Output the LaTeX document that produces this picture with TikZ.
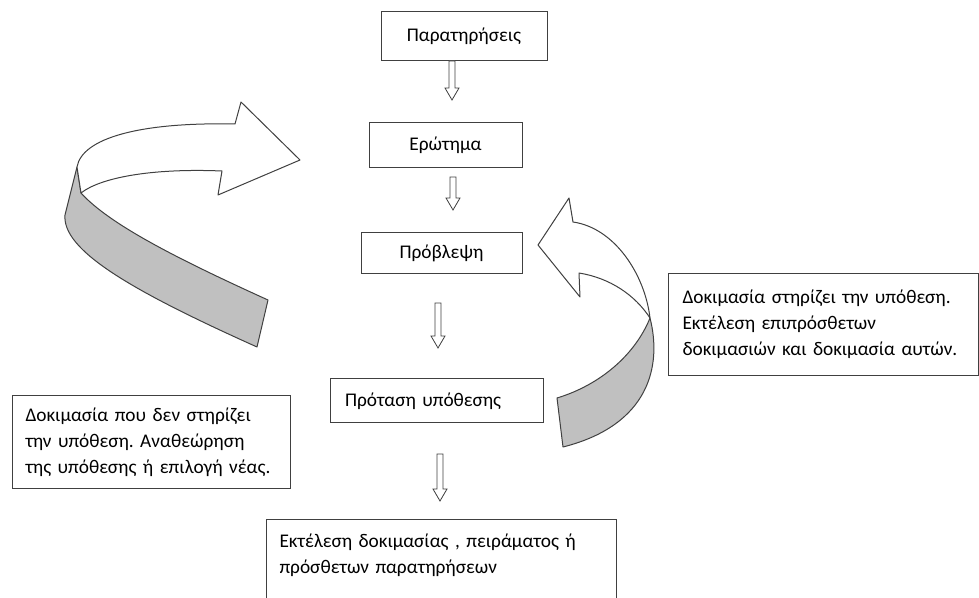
\documentclass[tikz,border=0pt]{standalone}
\usepackage{fontspec}
\setmainfont{Carlito}
\frenchspacing
\definecolor{edge}{HTML}{404040}
\definecolor{ribbon}{HTML}{C0C0C0}

\tikzset{
    box/.style={draw=edge, line width=0.75pt, inner sep=0pt, font=\fontsize{14.5}{19.5}\selectfont},
    notebox/.style={box, anchor=north west, align=left},
    hollow/.style={draw=edge, line width=0.6pt, fill=white, line join=miter},
    band/.style={draw=edge, line width=0.75pt, fill=white, line join=round},
    backband/.style={band, fill=ribbon},
}

\begin{document}
\begin{tikzpicture}[x=0.75pt, y=-0.75pt]

    \useasboundingbox (0,0) rectangle (979,598);
    \clip (0,0) rectangle (979,598);

    % main column
    \node (obs)   at ( 464, 36.5 ) [box, minimum width=124.5pt, minimum height=36.75pt] {Παρατηρήσεις};
    \node (quest) at ( 445.5, 145.5 ) [box, minimum width=114.75pt, minimum height=33.75pt] {Ερώτημα};
    \node (pred)  at ( 441.5, 253.5 ) [box, minimum width=120.75pt, minimum height=30.75pt] {Πρόβλεψη};
    \node (hyp)   at ( 436.5, 401 ) [box, align=left, text width=137.25pt, inner xsep=11.25pt, minimum height=33pt] {Πρόταση υπόθεσης};
    \node (test)  at ( 266, 519 ) [notebox, text width=243pt, inner xsep=9.75pt, inner ysep=11pt] {Εκτέλεση δοκιμασίας , πειράματος ή\\ πρόσθετων παρατηρήσεων\\ \mbox{}\\ \mbox{}};

    % side notes
    \node (yes) at ( 668, 273 ) [notebox, text width=211.5pt, inner xsep=10.5pt, minimum height=76.5pt] {\mbox{Δοκιμασία στηρίζει την υπόθεση.}\\ Εκτέλεση επιπρόσθετων\\ \mbox{δοκιμασιών και δοκιμασία αυτών.}};
    \node (no)  at ( 12, 395 ) [notebox, text width=189pt, inner xsep=9.75pt, minimum height=69.75pt] {Δοκιμασία που δεν στηρίζει\\ την υπόθεση. Αναθεώρηση\\ \mbox{της υπόθεσης ή επιλογή νέας.}};

    % hollow down arrows
    \coordinate (a1) at ( 452, 61 );
    \coordinate (a2) at ( 453, 177 );
    \coordinate (a3) at ( 438, 303 );
    \coordinate (a4) at ( 440, 454 );
    \draw[hollow] (a1) ++(-3,0) -- ++(6,0) -- ++(0,27) -- ++(4,0) -- ++(-7,12) -- ++(-7,-12) -- ++(4,0) -- cycle;
    \draw[hollow] (a2) ++(-3,0) -- ++(6,0) -- ++(0,21) -- ++(4,0) -- ++(-7,12) -- ++(-7,-12) -- ++(4,0) -- cycle;
    \draw[hollow] (a3) ++(-3,0) -- ++(6,0) -- ++(0,33) -- ++(4,0) -- ++(-7,12) -- ++(-7,-12) -- ++(4,0) -- cycle;
    \draw[hollow] (a4) ++(-3,0) -- ++(6,0) -- ++(0,35) -- ++(4,0) -- ++(-7,12) -- ++(-7,-12) -- ++(4,0) -- cycle;

    % left ribbon arrow (back to the question)
    \coordinate (ltip) at ( 300, 160 );
    \draw[backband] (77,167) -- (65,215) .. controls (62,250) and (130,290) .. (257,347)
        -- (268,300) .. controls (180,260) and (110,225) .. (81,193) -- cycle;
    \draw[band] (235,124) -- (241,102) -- (ltip) -- (218,195) -- (222,171)
        .. controls (150,168) and (100,178) .. (81,193) -- (77,167)
        .. controls (82,138) and (140,122) .. cycle;

    % right ribbon arrow (back to the prediction)
    \coordinate (rtip) at ( 538, 245 );
    \draw[backband] (650,318) .. controls (662,365) and (650,425) .. (563,447)
        -- (557,398) .. controls (600,385) and (635,355) .. cycle;
    \draw[band] (rtip) -- (569,198) -- (573,222) .. controls (615,228) and (645,275) .. (650,318)
        .. controls (635,295) and (610,278) .. (579,273) -- (580,297) -- cycle;

\end{tikzpicture}
\end{document}
